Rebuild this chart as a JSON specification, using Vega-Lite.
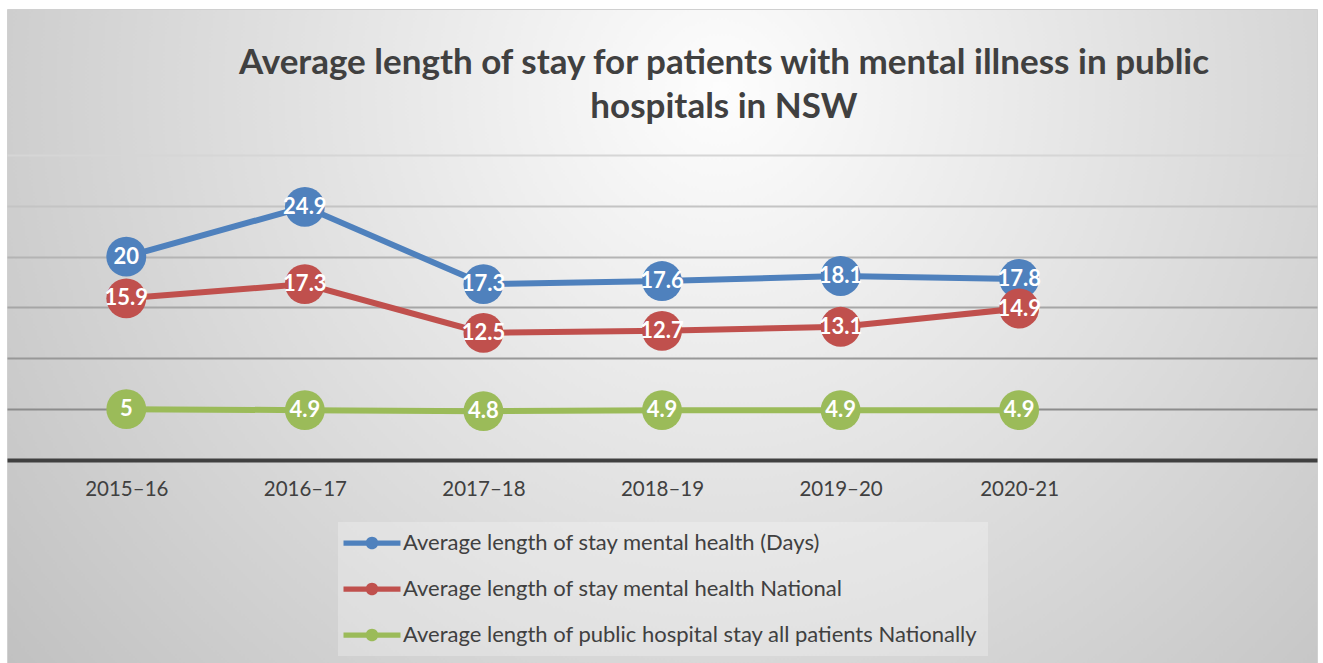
{
  "$schema": "https://vega.github.io/schema/vega-lite/v6.json",
  "autosize": {"type": "none"},
  "width": 1310,
  "height": 654,
  "padding": {"left": 7, "top": 9, "right": 6, "bottom": 0},
  "background": "#ffffff",
  "title": {
    "text": ["Average length of stay for patients with mental illness in public", "hospitals in NSW"],
    "anchor": "middle",
    "frame": "group",
    "orient": "top",
    "offset": -116,
    "dx": 62,
    "font": "Lato",
    "fontSize": 35,
    "fontWeight": "bold",
    "color": "#404040",
    "lineHeight": 44
  },
  "data": {
    "values": [
      {"year": "2015–16", "series": "Average length of stay mental health (Days)", "value": 20},
      {"year": "2016–17", "series": "Average length of stay mental health (Days)", "value": 24.9},
      {"year": "2017–18", "series": "Average length of stay mental health (Days)", "value": 17.3},
      {"year": "2018–19", "series": "Average length of stay mental health (Days)", "value": 17.6},
      {"year": "2019–20", "series": "Average length of stay mental health (Days)", "value": 18.1},
      {"year": "2020-21", "series": "Average length of stay mental health (Days)", "value": 17.8},
      {"year": "2015–16", "series": "Average length of stay mental health National", "value": 15.9},
      {"year": "2016–17", "series": "Average length of stay mental health National", "value": 17.3},
      {"year": "2017–18", "series": "Average length of stay mental health National", "value": 12.5},
      {"year": "2018–19", "series": "Average length of stay mental health National", "value": 12.7},
      {"year": "2019–20", "series": "Average length of stay mental health National", "value": 13.1},
      {"year": "2020-21", "series": "Average length of stay mental health National", "value": 14.9},
      {"year": "2015–16", "series": "Average length of public hospital stay all patients Nationally", "value": 5},
      {"year": "2016–17", "series": "Average length of public hospital stay all patients Nationally", "value": 4.9},
      {"year": "2017–18", "series": "Average length of public hospital stay all patients Nationally", "value": 4.8},
      {"year": "2018–19", "series": "Average length of public hospital stay all patients Nationally", "value": 4.9},
      {"year": "2019–20", "series": "Average length of public hospital stay all patients Nationally", "value": 4.9},
      {"year": "2020-21", "series": "Average length of public hospital stay all patients Nationally", "value": 4.9}
    ]
  },
  "encoding": {
    "x": {
      "field": "year",
      "type": "nominal",
      "sort": null,
      "scale": {
        "type": "point",
        "domain": ["2015–16", "2016–17", "2017–18", "2018–19", "2019–20", "2020-21", " "],
        "padding": 0.668
      },
      "axis": {
        "title": null,
        "orient": "bottom",
        "offset": -203,
        "labelAngle": 0,
        "labelFont": "Lato",
        "labelFontSize": 20.5,
        "labelColor": "#404040",
        "labelPadding": 19,
        "ticks": false,
        "tickSize": 0,
        "domain": true,
        "domainColor": "#404040",
        "domainWidth": 4,
        "grid": false
      }
    },
    "y": {
      "field": "value",
      "type": "quantitative",
      "scale": {"domain": [-19.97, 44.36], "nice": false, "zero": false},
      "axis": {
        "title": null,
        "labels": false,
        "ticks": false,
        "domain": false,
        "grid": true,
        "values": [5, 10, 15, 20, 25, 30],
        "gridWidth": 2,
        "gridColor": {
          "expr": "datum.value == 30 ? '#d6d6d6' : datum.value == 25 ? '#c4c4c4' : datum.value == 20 ? '#b4b4b4' : datum.value == 15 ? '#a6a6a6' : datum.value == 10 ? '#989898' : '#8c8c8c'"
        }
      }
    },
    "color": {
      "field": "series",
      "type": "nominal",
      "sort": null,
      "scale": {
        "domain": [
          "Average length of stay mental health (Days)",
          "Average length of stay mental health National",
          "Average length of public hospital stay all patients Nationally"
        ],
        "range": ["#4f81bd", "#c0504d", "#9bbb59"]
      },
      "legend": {
        "title": null,
        "orient": "none",
        "legendX": 331,
        "legendY": 513,
        "direction": "vertical",
        "fillColor": "rgba(255,255,255,0.25)",
        "padding": 10,
        "symbolType": "M-2.714,-0.25L2.714,-0.25L2.714,0.25L-2.714,0.25Z M0.6,0A0.6,0.6,0,1,1,-0.6,0A0.6,0.6,0,1,1,0.6,0Z",
        "symbolSize": 441,
        "symbolStrokeWidth": 0,
        "symbolOffset": 13,
        "labelOffset": 20,
        "labelFont": "Lato",
        "labelFontSize": 22,
        "labelColor": "#404040",
        "labelLimit": 800,
        "rowPadding": 24
      }
    }
  },
  "layer": [
    {"mark": {"type": "line", "strokeWidth": 6}},
    {"mark": {"type": "point", "filled": true, "size": 1590, "opacity": 1}},
    {
      "mark": {"type": "text", "font": "Lato", "fontSize": 22, "fontWeight": "bold", "color": "#ffffff", "baseline": "middle", "align": "center"},
      "encoding": {
        "text": {"field": "value", "type": "quantitative"},
        "color": {"value": "#ffffff"}
      }
    }
  ],
  "config": {
    "view": {
      "stroke": "#d0d0d0",
      "strokeWidth": 1,
      "fill": {
        "gradient": "radial",
        "x1": 0.544, "y1": 0.312, "r1": 0,
        "x2": 0.544, "y2": 0.312, "r2": 0.72,
        "stops": [
          {"offset": 0, "color": "#fdfdfd"},
          {"offset": 1, "color": "#bfbfbf"}
        ]
      }
    }
  }
}
